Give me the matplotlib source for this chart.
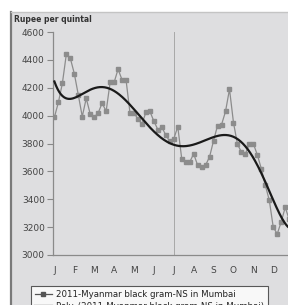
import numpy as np
import matplotlib
matplotlib.use("Agg")
import matplotlib.pyplot as plt
from matplotlib.lines import Line2D
from matplotlib.patches import Rectangle

months = ["J", "F", "M", "A", "M", "J", "J", "A", "S", "O", "N", "D"]
yticks = [3000, 3200, 3400, 3600, 3800, 4000, 4200, 4400, 4600]

# weekly-ish prices (Rs/quintal), about 5 readings per month
prices = [
    3988, 4095, 4231, 4440, 4412, 4302, 4150, 3993, 4124, 4012,
    3988, 4019, 4090, 4031, 4238, 4238, 4333, 4257, 4257, 4019,
    4020, 3975, 3940, 4024, 4030, 3960, 3900, 3917, 3860, 3815,
    3833, 3921, 3690, 3667, 3667, 3726, 3643, 3631, 3645, 3705,
    3821, 3929, 3935, 4030, 4190, 3950, 3795, 3738, 3726, 3798,
    3798, 3718, 3619, 3500, 3393, 3198, 3152, 3238, 3342, 3255,
    3225,
]
per_month = 5
series_label = "2011-Myanmar black gram-NS in Mumbai"
trend_label = "Poly. (2011-Myanmar black gram-NS in Mumbai)"

W, H = 288, 305
fig = plt.figure(figsize=(W / 100, H / 100), dpi=100)
fig.patch.set_facecolor("white")

# grey panel behind the chart
fig.patches.append(Rectangle((11 / W, 0), 1 - 11 / W, 1 - 12 / H,
                             transform=fig.transFigure, facecolor="#dedee0",
                             edgecolor="none", zorder=-5))
fig.add_artist(Line2D([11 / W, 11 / W], [0, 1 - 12 / H], transform=fig.transFigure,
                      color="#7a7a7a", lw=1.6, zorder=-4))
fig.add_artist(Line2D([11 / W, 1], [1 - 12 / H, 1 - 12 / H], transform=fig.transFigure,
                      color="#c4c4c4", lw=1.0, zorder=-4))

ax = fig.add_axes([53 / W, 50 / H, 1 - 53 / W, (255 - 32) / H])
ax.set_facecolor("none")
ax.set_zorder(2)

x = np.arange(len(prices)) / per_month
y = np.array(prices, dtype=float)

coef = np.polyfit(x, y, 6)
xs = np.linspace(x[0], x[-1], 300)

ax.axvline(6, ymax=1.0, color="#a8a8a8", lw=0.7, zorder=1)
ax.plot(x, y, color="#8c8c8c", lw=0.9, marker="s", ms=2.6,
        mfc="#8c8c8c", mec="#8c8c8c", zorder=2)
ax.plot(xs, np.polyval(coef, xs), color="#1a1a1a", lw=1.6, zorder=3)

ax.set_xlim(-0.07, 11.74)
ax.set_ylim(3000, 4600)
ax.set_yticks(yticks)
ax.set_xticks(range(12))
ax.set_xticklabels(months)
ax.tick_params(axis="y", length=4, width=0.8, color="#888888", labelsize=6.5,
               labelcolor="#444444", pad=2)
ax.tick_params(axis="x", length=0, labelsize=6.5, labelcolor="#444444", pad=8)
for side in ("top", "right"):
    ax.spines[side].set_visible(False)
for side in ("left", "bottom"):
    ax.spines[side].set_color("#8a8a8a")
    ax.spines[side].set_linewidth(0.9)

fig.text(14 / W, 1 - 19 / H, "Rupee per quintal", fontsize=5.5, fontweight="bold",
         color="#333333", va="center", ha="left")

handles = [
    Line2D([], [], color="#555555", lw=0.9, marker="s", ms=2.6),
    Line2D([], [], color="#1a1a1a", lw=1.6),
]
leg = fig.legend(handles, [series_label, trend_label], loc="upper left",
                 bbox_to_anchor=(27 / W, 1 - 282 / H), fontsize=6.2,
                 frameon=True, fancybox=False, handlelength=2.0,
                 borderpad=0.4, labelspacing=0.35, handletextpad=0.5)
leg.get_frame().set_edgecolor("#333333")
leg.get_frame().set_linewidth(0.8)
leg.set_zorder(3)
for t in leg.get_texts():
    t.set_color("#222222")

fig.savefig("out.png", dpi=100)
